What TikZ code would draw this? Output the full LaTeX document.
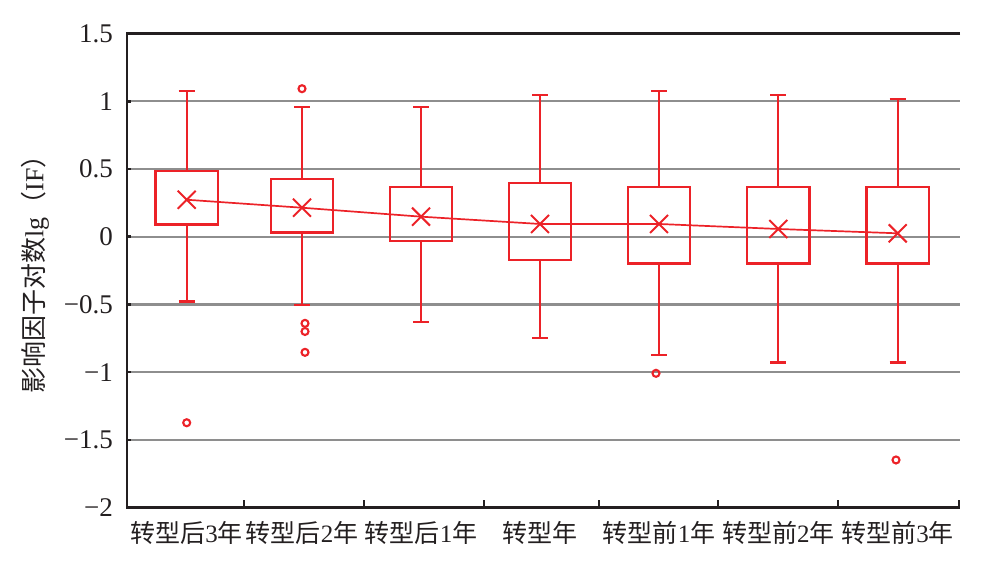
\documentclass[tikz,border=0pt]{standalone}
\usepackage{fontspec}
\setmainfont{Liberation Serif}
\newfontfamily\cjk{Noto Sans CJK SC}
\definecolor{bred}{RGB}{236,34,40}
\definecolor{gridc}{RGB}{142,142,142}
\definecolor{axc}{RGB}{35,31,32}
\newcommand\mybox[7]{%
  \draw[whisk] (#1,#5) -- (#1,#4);
  \draw[whisk] (#1,#2) -- (#1,#3);
  \draw[whisk] ({#1-8},#5) -- ({#1+8},#5);
  \draw[whisk] ({#1-8},#2) -- ({#1+8},#2);
  \draw[boxst] ({#1-31.2},#3) rectangle ({#1+31.2},#4);
  \coordinate (#7) at (#1,#6);
}
\begin{document}
\begin{tikzpicture}[x=1pt,y=1pt,
  boxst/.style={draw=bred,line width=2.3pt},
  whisk/.style={draw=bred,line width=2.3pt},
  gridst/.style={draw=gridc,line width=2.2pt},
  axst/.style={draw=axc,line width=2.5pt},
  ticklab/.style={anchor=east,font=\fontsize{27}{27}\selectfont,text=axc,inner sep=0pt},
  catlab/.style={font=\fontsize{25}{25}\selectfont,text=axc,inner sep=0pt},
  outl/.style={draw=bred,line width=2.1pt},
  xmk/.style={draw=bred,line width=2pt},
  meanline/.style={draw=bred,line width=1.7pt}
]
\useasboundingbox (0,0) rectangle (982,563);
\begin{scope}[shift={(0,326.3)},y=135.4pt]
  \foreach \v in {-1.5,-1,-0.5,0,0.5,1} \draw[gridst] (127,\v) -- (960,\v);
  \draw[axst,line join=miter] (960,1.5) -- (127,1.5) -- (127,-2) -- (960,-2);
  \foreach \x in {244,364,484,599,718,838,959} \draw[axst] (\x,-2) -- ++(0,8pt);
  \foreach \v in {1,0.5,0,-0.5,-1,-1.5} \draw[axst] (127,\v) -- ++(4pt,0);
  \node[ticklab] (t15) at (113,1.5) {1.5};
  \node[ticklab] (t10) at (113,1) {1};
  \node[ticklab] (t05) at (113,0.5) {0.5};
  \node[ticklab] (t00) at (113,0) {0};
  \node[ticklab] (tm05) at (113,-0.5) {−0.5};
  \node[ticklab] (tm10) at (113,-1) {−1};
  \node[ticklab] (tm15) at (113,-1.5) {−1.5};
  \node[ticklab] (tm20) at (113,-2) {−2};
  \mybox{186.7}{-0.478}{0.089}{0.487}{1.078}{0.273}{m1}
  \mybox{302}{-0.504}{0.030}{0.428}{0.958}{0.214}{m2}
  \mybox{421}{-0.628}{-0.032}{0.367}{0.960}{0.148}{m3}
  \mybox{540}{-0.746}{-0.172}{0.397}{1.047}{0.094}{m4}
  \mybox{659}{-0.874}{-0.199}{0.367}{1.076}{0.094}{m5}
  \mybox{778.3}{-0.930}{-0.199}{0.367}{1.047}{0.057}{m6}
  \mybox{897.7}{-0.930}{-0.199}{0.367}{1.017}{0.025}{m7}
  \draw[meanline] (m1) -- (m2) -- (m3) -- (m4) -- (m5) -- (m6) -- (m7);
  \foreach \m in {m1,m2,m3,m4,m5,m6,m7}
    \draw[xmk,shift={(\m)}] (-9pt,-9pt) -- (9pt,9pt) (-9pt,9pt) -- (9pt,-9pt);
  \foreach \px/\pv in {186.7/-1.374, 302/1.093, 305/-0.640, 305/-0.700, 305/-0.854, 656/-1.009, 896/-1.649}
    \draw[outl] (\px,\pv) circle[radius=3.5pt];
\end{scope}
\node[catlab] (c1) at (186.7,30) {{\cjk 转型后}3{\cjk 年}};
\node[catlab] (c2) at (302,30) {{\cjk 转型后}2{\cjk 年}};
\node[catlab] (c3) at (421,30) {{\cjk 转型后}1{\cjk 年}};
\node[catlab] (c4) at (540,30) {{\cjk 转型年}};
\node[catlab] (c5) at (659,30) {{\cjk 转型前}1{\cjk 年}};
\node[catlab] (c6) at (778.3,30) {{\cjk 转型前}2{\cjk 年}};
\node[catlab] (c7) at (897.7,30) {{\cjk 转型前}3{\cjk 年}};
\node[font=\fontsize{26}{26}\selectfont,text=axc,inner sep=0pt,rotate=90] (ylab) at (35,295) {{\cjk 影响因子对数}lg{\cjk （}IF{\cjk ）}};
\end{tikzpicture}
\end{document}
